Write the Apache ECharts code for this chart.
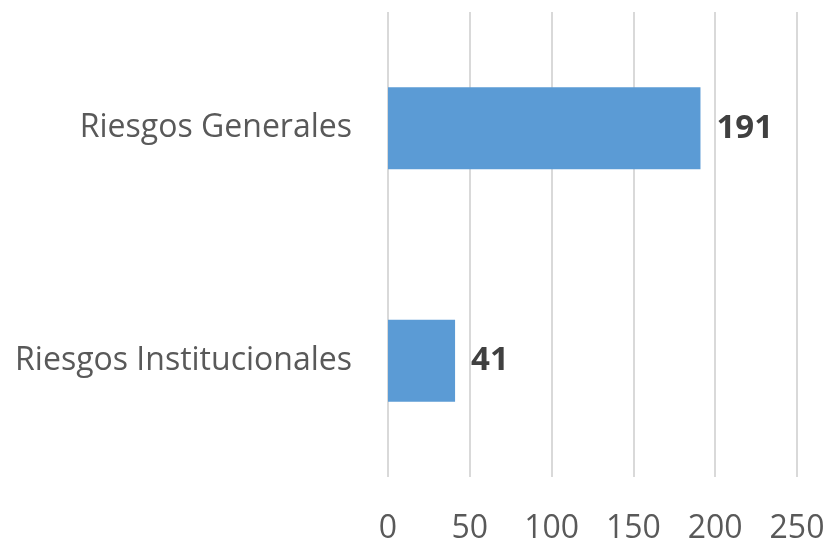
<!DOCTYPE html>
<html>
<head>
    <meta charset="utf-8">
    <title>Riesgos</title>
    <script src="https://cdn.jsdelivr.net/npm/echarts@6/dist/echarts.min.js"></script>
    <style>
        html, body {margin:0;padding:0;background:#fff}
        #chart {width:830px;height:540px}
    </style>
</head>
<body>
<div id="chart"></div>
<script>
    // datos (de abajo hacia arriba en el eje de categorías)
    var categorias = ['Riesgos Institucionales', 'Riesgos Generales'];
    var valores = [41, 191];
    var ticks = [0, 50, 100, 150, 200, 250];

    var chart = echarts.init(document.getElementById('chart'));
    var fuente = '"Open Sans", "Noto Sans", sans-serif';
    var option = {
        animation: false,
        grid: {
            left: 388,
            right: 33,
            top: 12,
            bottom: 63,
            outerBoundsMode: 'none'
        },
        xAxis: {
            type: 'value',
            min: ticks[0],
            max: ticks[ticks.length - 1],
            interval: 50,
            axisLine: {show: false},
            axisTick: {show: false},
            axisLabel: {
                color: '#595959',
                fontSize: 32,
                fontFamily: fuente,
                margin: 36
            },
            splitLine: {lineStyle: {color: '#d9d9d9', width: 2}}
        },
        yAxis: {
            type: 'category',
            data: categorias,
            axisLine: {show: false},
            axisTick: {show: false},
            axisLabel: {
                color: '#595959',
                fontSize: 32,
                fontFamily: fuente,
                margin: 36
            }
        },
        series: [{
            type: 'bar',
            data: valores,
            barWidth: 82,
            itemStyle: {color: '#5b9bd5'},
            label: {
                show: true,
                position: 'right',
                distance: 16,
                color: '#404040',
                fontSize: 33,
                fontWeight: 'bold',
                fontFamily: fuente
            }
        }]
    };
    chart.setOption(option);

    window.onresize = function () {
        chart.resize();
    };
</script>
</body>
</html>
